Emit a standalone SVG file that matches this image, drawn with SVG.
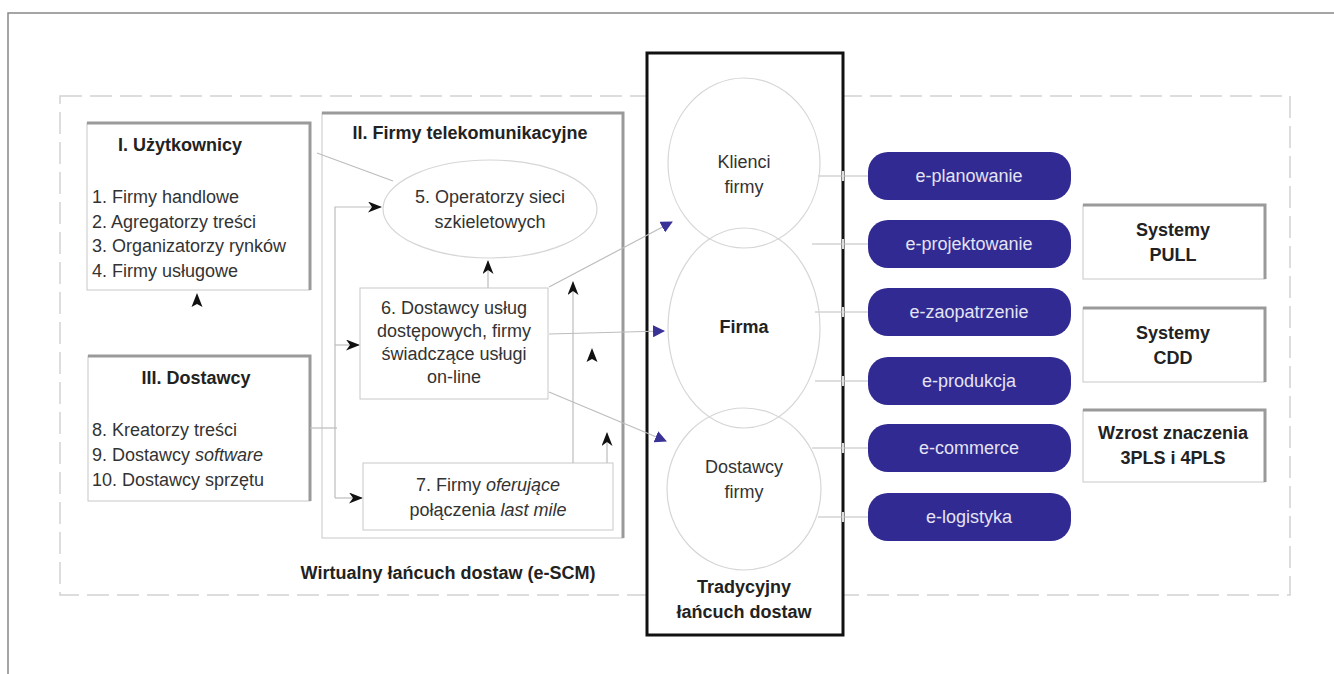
<svg xmlns="http://www.w3.org/2000/svg" width="1334" height="674" viewBox="0 0 1334 674">
<style>
text{font-family:"Liberation Sans",Arial,sans-serif;font-size:18px;fill:#333}
.b{font-weight:bold;fill:#222}
.c{text-anchor:middle}
.e{fill:#e4e3f3;text-anchor:middle;font-size:18px}
.thin{fill:#fff;stroke:#c8c8c8;stroke-width:1}
.sh{stroke:#9a9a9a;stroke-width:3;fill:none}
.ln{stroke:#bdbdbd;stroke-width:1.2;fill:none}
.eb{fill:#302a92}
.ell{fill:none;stroke:#d6d6d6;stroke-width:1.2}
</style>
<defs>
<marker id="ak" viewBox="0 0 14 11" refX="13" refY="5.5" markerWidth="14" markerHeight="11" markerUnits="userSpaceOnUse" orient="auto">
<path d="M0,0 L14,5.5 L0,11 L4,5.5 z" fill="#111"/>
</marker>
<marker id="ab" viewBox="0 0 12 12" refX="11" refY="6" markerWidth="12" markerHeight="12" markerUnits="userSpaceOnUse" orient="auto">
<path d="M0,0 L12,6 L0,12 z" fill="#3a3296"/>
</marker>
<path id="up" d="M0,-8 L5.5,6 L0,3 L-5.5,6 z" fill="#111"/>
</defs>
<rect width="1334" height="674" fill="#fff"/>
<g id="frame">
<path d="M8,674 V13 H1334" fill="none" stroke="#888" stroke-width="1.5"/>
<rect x="60" y="96" width="1230" height="499" fill="none" stroke="#d2d2d2" stroke-width="1.5" stroke-dasharray="22 8"/>
</g>
<g id="traditional">
<rect x="647" y="53" width="196" height="582" fill="#fff" stroke="#111" stroke-width="3"/>
</g>
<g id="box-II">
<rect x="322" y="113" width="301" height="425" class="thin"/>
<path d="M322,113 H623 V538" class="sh"/>
<text x="470" y="139" class="b c">II. Firmy telekomunikacyjne</text>
</g>
<g id="box-I">
<rect x="87" y="123" width="223" height="167" class="thin"/>
<path d="M87,123 H310 V290" class="sh"/>
<text x="180" y="151" class="b c">I. Użytkownicy</text>
<text x="92" y="203">1. Firmy handlowe</text>
<text x="92" y="228">2. Agregatorzy treści</text>
<text x="92" y="252">3. Organizatorzy rynków</text>
<text x="92" y="277">4. Firmy usługowe</text>
</g>
<g id="box-III">
<rect x="88" y="356" width="222" height="145" class="thin"/>
<path d="M88,356 H310 V501" class="sh"/>
<text x="196" y="384" class="b c">III. Dostawcy</text>
<text x="92" y="436">8. Kreatorzy treści</text>
<text x="92" y="461">9. Dostawcy <tspan font-style="italic">software</tspan></text>
<text x="92" y="486">10. Dostawcy sprzętu</text>
</g>
<g id="connectors">
<line x1="317" y1="153" x2="393" y2="181" class="ln"/>
<line x1="310" y1="428" x2="337" y2="428" class="ln"/>
<path d="M335,498 V207 H381" class="ln" marker-end="url(#ak)"/>
<line x1="335" y1="345" x2="359" y2="345" class="ln" marker-end="url(#ak)"/>
<line x1="335" y1="498" x2="362" y2="498" class="ln" marker-end="url(#ak)"/>
<use href="#up" x="197" y="301"/>
<line x1="488" y1="288" x2="488" y2="261" class="ln" marker-end="url(#ak)"/>
<line x1="573" y1="463" x2="573" y2="282" class="ln" marker-end="url(#ak)"/>
<use href="#up" x="592" y="356"/>
<line x1="607" y1="463" x2="607" y2="433" class="ln" marker-end="url(#ak)"/>
<line x1="549" y1="287" x2="672" y2="222" class="ln" marker-end="url(#ab)"/>
<line x1="549" y1="334" x2="664" y2="331" class="ln" marker-end="url(#ab)"/>
<line x1="549" y1="392" x2="666" y2="441" class="ln" marker-end="url(#ab)"/>
<g class="ln">
<line x1="818" y1="176" x2="868" y2="176"/>
<line x1="812" y1="244" x2="868" y2="244"/>
<line x1="815" y1="312" x2="868" y2="312"/>
<line x1="815" y1="381" x2="868" y2="381"/>
<line x1="812" y1="448" x2="868" y2="448"/>
<line x1="818" y1="517" x2="868" y2="517"/>
</g>
<g stroke="#ddd" stroke-width="2">
<line x1="843" y1="171" x2="843" y2="181"/>
<line x1="843" y1="239" x2="843" y2="249"/>
<line x1="843" y1="307" x2="843" y2="317"/>
<line x1="843" y1="376" x2="843" y2="386"/>
<line x1="843" y1="443" x2="843" y2="453"/>
<line x1="843" y1="512" x2="843" y2="522"/>
</g>
</g>
<g id="n5">
<ellipse cx="490" cy="209" rx="107" ry="49" class="ell"/>
<text x="490" y="203" class="c">5. Operatorzy sieci</text>
<text x="490" y="228" class="c">szkieletowych</text>
</g>
<g id="n6">
<rect x="360" y="288" width="188" height="111" class="thin"/>
<text x="454" y="314" class="c">6. Dostawcy usług</text>
<text x="454" y="337" class="c">dostępowych, firmy</text>
<text x="454" y="360" class="c">świadczące usługi</text>
<text x="454" y="383" class="c">on-line</text>
</g>
<g id="n7">
<rect x="363" y="463" width="250" height="67" class="thin"/>
<text x="488" y="491" class="c">7. Firmy <tspan font-style="italic">oferujące</tspan></text>
<text x="488" y="516" class="c">połączenia <tspan font-style="italic">last mile</tspan></text>
</g>
<text x="448" y="579" class="b c">Wirtualny łańcuch dostaw (e-SCM)</text>
<g id="klienci">
<ellipse cx="744" cy="163" rx="76" ry="85" class="ell"/>
<text x="744" y="168" class="c">Klienci</text>
<text x="744" y="193" class="c">firmy</text>
</g>
<g id="firma">
<ellipse cx="744" cy="328" rx="76" ry="100" class="ell"/>
<text x="744" y="333" class="b c">Firma</text>
</g>
<g id="dostawcy-firmy">
<ellipse cx="744" cy="489" rx="77" ry="81" class="ell"/>
<text x="744" y="473" class="c">Dostawcy</text>
<text x="744" y="498" class="c">firmy</text>
</g>
<g id="tradycyjny-label">
<text x="744" y="593" class="b c">Tradycyjny</text>
<text x="744" y="618" class="b c">łańcuch dostaw</text>
</g>
<g id="e-planowanie"><rect x="868" y="152" width="203" height="48" rx="20" class="eb"/><text x="969" y="182" class="e">e-planowanie</text></g>
<g id="e-projektowanie"><rect x="868" y="220" width="203" height="48" rx="20" class="eb"/><text x="969" y="250" class="e">e-projektowanie</text></g>
<g id="e-zaopatrzenie"><rect x="868" y="288" width="203" height="48" rx="20" class="eb"/><text x="969" y="318" class="e">e-zaopatrzenie</text></g>
<g id="e-produkcja"><rect x="868" y="357" width="203" height="48" rx="20" class="eb"/><text x="969" y="387" class="e">e-produkcja</text></g>
<g id="e-commerce"><rect x="868" y="424" width="203" height="48" rx="20" class="eb"/><text x="969" y="454" class="e">e-commerce</text></g>
<g id="e-logistyka"><rect x="868" y="493" width="203" height="48" rx="20" class="eb"/><text x="969" y="523" class="e">e-logistyka</text></g>
<g id="pull">
<rect x="1083" y="205" width="182" height="74" class="thin"/>
<path d="M1083,205 H1265 V279" class="sh"/>
<text x="1173" y="236" class="b c">Systemy</text>
<text x="1173" y="261" class="b c">PULL</text>
</g>
<g id="cdd">
<rect x="1083" y="308" width="182" height="74" class="thin"/>
<path d="M1083,308 H1265 V382" class="sh"/>
<text x="1173" y="339" class="b c">Systemy</text>
<text x="1173" y="364" class="b c">CDD</text>
</g>
<g id="wzrost">
<rect x="1083" y="410" width="182" height="72" class="thin"/>
<path d="M1083,410 H1265 V482" class="sh"/>
<text x="1173" y="439" class="b c">Wzrost znaczenia</text>
<text x="1173" y="464" class="b c">3PLS i 4PLS</text>
</g>
</svg>
